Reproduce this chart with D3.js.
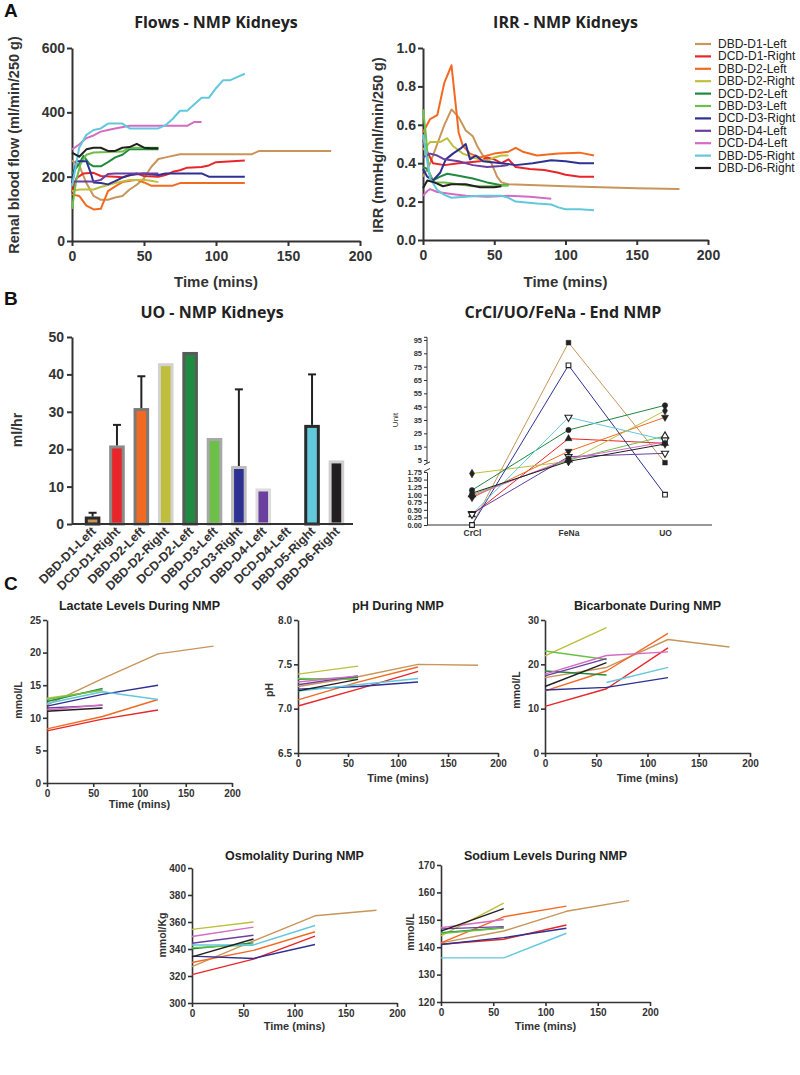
<!DOCTYPE html>
<html><head><meta charset="utf-8">
<script src="https://cdn.jsdelivr.net/npm/d3@7"></script>
<style>body{margin:0;background:#fff}</style>
</head><body>
<svg id="fig" width="800" height="1075"></svg>
<script>
// ---------- DATA ----------
const kidneys = ["DBD-D1-Left","DCD-D1-Right","DBD-D2-Left","DBD-D2-Right","DCD-D2-Left","DBD-D3-Left","DCD-D3-Right","DBD-D4-Left","DCD-D4-Left","DBD-D5-Right","DBD-D6-Right"];
const kidneyColors = ["#c8955a","#e8262a","#f26a22","#bebe3c","#1f8a40","#6cc04a","#2e3192","#6a3fa0","#d36cc2","#62c8dc","#231f20"];

// Flows (time min, ml/min/250 g)
const flowData = [
 [[0,250],[5,235],[10,180],[15,140],[20,128],[25,128],[30,135],[35,140],[40,160],[45,175],[50,195],[55,230],[60,255],[65,260],[75,270],[125,270],[130,280],[180,280]],
 [[0,150],[3,195],[8,210],[15,212],[20,202],[30,200],[35,198],[45,210],[50,202],[60,200],[65,205],[70,215],[75,220],[80,228],[90,230],[95,235],[100,245],[120,250]],
 [[0,145],[5,140],[10,110],[15,98],[20,100],[25,155],[30,170],[35,183],[45,190],[50,182],[55,172],[70,172],[75,180],[120,180]],
 [[0,155],[5,160],[15,160],[20,168],[30,180],[40,190],[50,190],[55,187],[60,183]],
 [[0,210],[5,240],[8,265],[12,240],[15,232],[20,232],[25,245],[30,260],[35,268],[40,285],[60,285]],
 [[0,100],[3,190],[6,240],[10,268],[15,275],[35,278],[40,290],[60,290]],
 [[0,180],[3,248],[10,248],[13,212],[15,182],[20,180],[25,176],[30,186],[35,197],[40,205],[50,210],[60,205],[65,210],[90,210],[95,200],[120,200]],
 [[0,185],[15,185],[20,190],[25,208],[30,210],[60,210]],
 [[0,285],[5,300],[10,320],[15,328],[20,340],[25,345],[30,350],[40,358],[80,358],[85,370],[90,370]],
 [[0,170],[5,290],[10,330],[15,345],[20,350],[25,365],[35,365],[40,350],[60,350],[65,360],[70,380],[75,405],[80,405],[85,425],[90,445],[95,445],[100,475],[105,500],[110,500],[115,510],[120,520]],
 [[0,275],[5,262],[10,285],[15,290],[20,290],[25,280],[30,280],[35,290],[40,292],[45,302],[50,290],[55,288],[60,288]]
];
// IRR (time min, mmHg/ml/min/250 g)
const irrData = [
 [[0,0.33],[5,0.40],[10,0.50],[15,0.60],[20,0.68],[25,0.64],[30,0.57],[35,0.54],[38,0.49],[42,0.44],[48,0.40],[52,0.33],[55,0.30],[60,0.29],[100,0.28],[150,0.27],[180,0.265]],
 [[0,0.52],[3,0.46],[7,0.40],[15,0.39],[25,0.40],[40,0.41],[45,0.43],[50,0.42],[55,0.40],[60,0.42],[65,0.38],[75,0.37],[85,0.365],[95,0.35],[100,0.34],[110,0.33],[120,0.33]],
 [[0,0.56],[5,0.63],[10,0.65],[15,0.82],[20,0.91],[25,0.56],[28,0.49],[33,0.45],[40,0.43],[50,0.45],[60,0.46],[65,0.48],[70,0.46],[80,0.44],[95,0.45],[110,0.455],[120,0.44]],
 [[0,0.47],[5,0.51],[12,0.51],[17,0.53],[21,0.49],[28,0.45],[35,0.43],[45,0.41],[50,0.43],[55,0.44],[60,0.44]],
 [[0,0.38],[3,0.37],[7,0.31],[12,0.33],[17,0.345],[25,0.335],[35,0.32],[45,0.30],[55,0.285],[60,0.285]],
 [[0,0.68],[2,0.55],[4,0.36],[7,0.30],[15,0.30],[25,0.29],[35,0.28],[50,0.28],[60,0.285]],
 [[0,0.37],[3,0.33],[7,0.31],[12,0.35],[16,0.42],[21,0.45],[27,0.48],[30,0.50],[33,0.42],[37,0.44],[42,0.41],[55,0.40],[65,0.39],[77,0.40],[90,0.415],[100,0.41],[110,0.40],[120,0.40]],
 [[0,0.43],[5,0.45],[10,0.44],[15,0.42],[25,0.41],[35,0.39],[45,0.38],[55,0.385],[60,0.39]],
 [[0,0.23],[3,0.255],[5,0.265],[10,0.25],[15,0.245],[20,0.24],[30,0.23],[45,0.225],[60,0.23],[75,0.225],[90,0.215]],
 [[0,0.55],[3,0.41],[5,0.32],[10,0.26],[15,0.235],[20,0.22],[30,0.225],[40,0.23],[55,0.23],[60,0.22],[65,0.20],[80,0.19],[90,0.185],[95,0.17],[100,0.16],[110,0.16],[120,0.155]],
 [[0,0.27],[3,0.31],[8,0.30],[14,0.28],[20,0.29],[30,0.29],[40,0.275],[50,0.275],[55,0.28]]
];
// Urine output (ml/hr) and error-bar tops
const uoValues = [2, 21, 31, 43, 46, 23, 15.5, 9.5, 0, 26.5, 17];
const uoErrTop = [3, 26.5, 39.5, null, null, null, 36, null, null, 40, null];
const uoBorder = ["#2a2a2a","#8a8a8a","#7a7a7a","#d2d2d2","#5a5a5a","#a8a8a8","#bdbdbd","#dcdcdc","#cccccc","#2a2a2a","#cfcfcf"];

// CrCl / FeNa / UO at end of NMP
const crclCategories = ["CrCl","FeNa","UO"];
const crclValues = [
 [0.0,93,3],[0.33,21,17.5],[0.9,11.5,37],[1.7,4,42],[1.15,27.5,46],[1.0,5,23],
 [0.0,76,1.0],[0.38,7.5,10],[0.95,6,18.5],[0.35,37,20],[1.05,4,17]
];
const crclSymbols = ["square","triangle","triangleDown","diamond","circle","triangleOpen","squareOpen","triangleDownOpen","circle","triangleDownOpen","diamond"];
const crclUpperTicks = [5,15,25,35,45,55,65,75,85,95];
const crclLowerTicks = [0,0.25,0.5,0.75,1.0,1.25,1.5,1.75];

// Panel C: time points and per-kidney values
const bloodTimes = [0, 60, 120, 180];
const lactateValues = [
 [12.0,16.0,19.8,21.0],[8.0,9.8,11.2,null],[8.3,10.2,12.8,null],[13.0,14.2,null,null],[12.5,14.5,null,null],[12.8,14.3,null,null],
 [11.8,13.6,15.0,null],[11.5,11.9,null,null],[11.2,12.0,null,null],[12.2,14.0,12.8,null],[11.0,11.5,null,null]];
const phValues = [
 [7.25,7.36,7.50,7.49],[7.03,7.22,7.42,null],[7.10,7.30,7.47,null],[7.39,7.48,null,null],[7.33,7.35,null,null],[7.34,7.33,null,null],
 [7.22,7.25,7.30,null],[7.27,7.37,null,null],[7.30,7.37,null,null],[7.20,7.27,7.34,null],[7.20,7.33,null,null]];
const bicarbValues = [
 [17.0,19.3,25.6,23.9],[10.5,14.5,23.7,null],[14.0,18.5,27.0,null],[21.9,28.3,null,null],[18.5,17.6,null,null],[23.0,21.1,null,null],
 [14.2,14.8,17.0,null],[17.4,21.3,null,null],[17.8,22.0,22.8,null],[null,15.9,19.3,null],[15.0,20.4,null,null]];
const osmValues = [
 [327,346,364.6,368.7],[321,332.5,349.5,null],[330,339,352.8,null],[354.5,360,null,null],[340.2,344.5,null,null],[341,343,null,null],
 [334.7,333,343.3,null],[344.3,350.2,null,null],[349.3,356.2,null,null],[343,343,357.4,null],[334.2,347.4,null,null]];
const sodiumValues = [
 [141.6,145.9,153.1,157],[141.1,142.9,148.1,null],[141.6,151.1,155,null],[144.1,156.1,null,null],[145.3,147.1,null,null],[145,147,null,null],
 [141,143.5,146.9,null],[146.7,147.5,null,null],[147.1,150.1,null,null],[136.1,136.1,145.1,null],[145.9,154.1,null,null]];

// ---------- DRAWING ----------
const svg = d3.select("#fig");
const AX = "#333";
const ARIAL = "'Liberation Sans', Arial, sans-serif";
const TITLEF = "'Open Sans', 'Liberation Sans', sans-serif";

function styleAxis(g, fs, sw){
  g.selectAll("path").attr("stroke", AX).attr("stroke-width", sw);
  g.selectAll("line").attr("stroke", AX).attr("stroke-width", sw);
  g.selectAll("text").attr("font-size", fs).attr("font-weight","bold").attr("fill", AX).attr("font-family", ARIAL);
}
function label(x, y, txt, opts={}){
  const t = svg.append("text").attr("x", x).attr("y", y).text(txt)
    .attr("font-family", opts.family || ARIAL).attr("font-size", opts.size || 12)
    .attr("font-weight", opts.weight || "bold").attr("fill", opts.fill || AX)
    .attr("text-anchor", opts.anchor || "middle");
  if (opts.rotate) t.attr("transform", `rotate(${opts.rotate},${x},${y})`);
  return t;
}

// generic time-series chart
function timeChart(cfg){
  const x = d3.scaleLinear().domain([0,200]).range(cfg.xr);
  const y = d3.scaleLinear().domain(cfg.yd).range(cfg.yr);
  const gx = svg.append("g").attr("transform",`translate(0,${cfg.yr[0]})`)
    .call(d3.axisBottom(x).tickValues([0,50,100,150,200]).tickSize(cfg.tick).tickSizeOuter(0).tickPadding(cfg.pad));
  styleAxis(gx, cfg.tfs, cfg.asw);
  const gy = svg.append("g").attr("transform",`translate(${cfg.xr[0]},0)`)
    .call(d3.axisLeft(y).tickValues(cfg.yticks).tickSize(cfg.tick).tickSizeOuter(0).tickPadding(2).tickFormat(cfg.fmt || d3.format("d")));
  styleAxis(gy, cfg.tfs, cfg.asw);
  const line = d3.line().defined(d => d[1] != null).x(d => x(d[0])).y(d => y(d[1]));
  cfg.data.forEach((s,i) => {
    svg.append("path").datum(s).attr("d", line).attr("fill","none")
      .attr("stroke", kidneyColors[i]).attr("stroke-width", cfg.lw).attr("stroke-linejoin","round");
  });
  label((cfg.xr[0]+cfg.xr[1])/2, cfg.titleY, cfg.title, {size: cfg.titleSize, family: cfg.titleFamily || ARIAL, fill:"#222"});
  label((cfg.xr[0]+cfg.xr[1])/2 + (cfg.xlabDx||0), cfg.xlabY, "Time (mins)", {size: cfg.xlabSize});
  label(cfg.ylabX, cfg.ylabY, cfg.ylab, {size: cfg.ylabSize, rotate:-90});
}

// Panel letters
label(4, 17, "A", {size:19, anchor:"start", fill:"#111"});
label(4, 305, "B", {size:19, anchor:"start", fill:"#111"});
label(4, 590, "C", {size:19, anchor:"start", fill:"#111"});

// A left: flows
timeChart({xr:[72,360], yr:[241,48], yd:[0,600], yticks:[0,200,400,600], data:flowData,
  tick:5, pad:5, tfs:14, asw:2, lw:2,
  title:"Flows - NMP Kidneys", titleY:28, titleSize:16, titleFamily:TITLEF,
  xlabY:287, xlabSize:15, ylab:"Renal blood flow (ml/min/250 g)", ylabX:19, ylabY:145, ylabSize:14.5});

// A right: IRR
timeChart({xr:[423,708], yr:[240,48], yd:[0,1], yticks:[0,0.2,0.4,0.6,0.8,1.0], fmt:d3.format(".1f"), data:irrData,
  tick:5, pad:5, tfs:14, asw:2, lw:2,
  title:"IRR - NMP Kidneys", titleY:28, titleSize:16, titleFamily:TITLEF,
  xlabY:287, xlabSize:15, ylab:"IRR (mmHg/ml/min/250 g)", ylabX:383, ylabY:145, ylabSize:14.5});

// legend
const legY = d3.scalePoint().domain(kidneys).range([44, 168]);
kidneys.forEach((k,i) => {
  svg.append("line").attr("x1",695).attr("x2",711).attr("y1",legY(k)).attr("y2",legY(k))
    .attr("stroke",kidneyColors[i]).attr("stroke-width",2.2);
  const t = svg.append("text").attr("x",718).attr("y",legY(k)+4).text(k)
    .attr("font-family",ARIAL).attr("font-size",12).attr("fill","#222");
  const w = t.node().getComputedTextLength();
  t.attr("textLength", Math.min(w, 79 * w / 77.3)).attr("lengthAdjust","spacingAndGlyphs");
});

// B left: UO bars
(function(){
  const x = d3.scaleBand().domain(kidneys).range([76,353]).padding(0.36);
  const y = d3.scaleLinear().domain([0,50]).range([524,337]);
  const bw = x.bandwidth();
  kidneys.forEach((k,i) => {
    if (uoValues[i] <= 0) return;
    svg.append("rect").attr("x", x(k)+1.5).attr("y", y(uoValues[i])+1.5)
      .attr("width", bw-3).attr("height", Math.max(0, y(0)-y(uoValues[i])-1.5))
      .attr("fill", kidneyColors[i]).attr("stroke", uoBorder[i]).attr("stroke-width",3);
    if (uoErrTop[i] != null){
      const cx = x(k)+bw/2;
      svg.append("line").attr("x1",cx).attr("x2",cx).attr("y1",y(uoValues[i])).attr("y2",y(uoErrTop[i])).attr("stroke","#222").attr("stroke-width",2);
      svg.append("line").attr("x1",cx-4).attr("x2",cx+4).attr("y1",y(uoErrTop[i])).attr("y2",y(uoErrTop[i])).attr("stroke","#222").attr("stroke-width",2);
    }
  });
  const gy = svg.append("g").attr("transform","translate(72,0)")
    .call(d3.axisLeft(y).tickValues([0,10,20,30,40,50]).tickSize(5).tickSizeOuter(0).tickPadding(3));
  styleAxis(gy, 14, 2);
  svg.append("line").attr("x1",72).attr("x2",353).attr("y1",y(0)).attr("y2",y(0)).attr("stroke",AX).attr("stroke-width",2);
  kidneys.forEach((k,i) => {
    const cx = x(k)+bw/2+4, cy = 532;
    svg.append("text").attr("x",cx).attr("y",cy).text(k).attr("text-anchor","end")
      .attr("transform",`rotate(-45,${cx},${cy})`).attr("font-family",ARIAL)
      .attr("font-size",12.5).attr("font-weight","bold").attr("fill",AX);
  });
  label(212, 318, "UO - NMP Kidneys", {size:16, family:TITLEF, fill:"#222"});
  label(22, 430, "ml/hr", {size:14, rotate:-90});
})();

// B right: CrCl/UO/FeNa
(function(){
  const x = d3.scalePoint().domain(crclCategories).range([472,665]);
  const yUp = d3.scaleLinear().domain([2,100]).range([464,333.3]);
  const yLo = d3.scaleLinear().domain([0,1.75]).range([525,472]);
  const yv = v => v <= 1.75 ? yLo(v) : yUp(Math.max(v,2));
  const gu = svg.append("g").attr("transform","translate(427,0)")
    .call(d3.axisLeft(yUp).tickValues(crclUpperTicks).tickSize(3).tickSizeOuter(0).tickPadding(2));
  styleAxis(gu, 7.5, 1);
  gu.select("path").attr("d", `M-3,${yUp(97)}H0V${yUp(2.5)}`);
  const gl = svg.append("g").attr("transform","translate(427,0)")
    .call(d3.axisLeft(yLo).tickValues(crclLowerTicks).tickSize(3).tickSizeOuter(0).tickPadding(2).tickFormat(d3.format(".2f")));
  styleAxis(gl, 7.5, 1);
  // axis break marks
  [yUp(2.5), yLo(1.75)-2].forEach(yy => {
    svg.append("line").attr("x1",424).attr("x2",430).attr("y1",yy+1.5).attr("y2",yy-1.5).attr("stroke",AX).attr("stroke-width",1);
  });
  const gx = svg.append("g").attr("transform","translate(0,525)")
    .call(d3.axisBottom(x).tickSize(0).tickPadding(5));
  styleAxis(gx, 8.5, 1.2);
  gx.select("path").attr("d","M427,0H712");
  const line = d3.line().x((d,j) => x(crclCategories[j])).y(d => yv(d));
  crclValues.forEach((vals,i) => {
    svg.append("path").datum(vals).attr("d", line).attr("fill","none")
      .attr("stroke", kidneyColors[i]).attr("stroke-width",1);
  });
  const symMap = {square:d3.symbolSquare, squareOpen:d3.symbolSquare, triangle:d3.symbolTriangle, triangleOpen:d3.symbolTriangle,
    triangleDown:d3.symbolTriangle, triangleDownOpen:d3.symbolTriangle, circle:d3.symbolCircle, diamond:d3.symbolDiamond};
  crclValues.forEach((vals,i) => {
    const s = crclSymbols[i];
    vals.forEach((v,j) => {
      const open = s.includes("Open");
      const rot = s.startsWith("triangleDown") ? 180 : 0;
      svg.append("path").attr("d", d3.symbol().type(symMap[s]).size(22)())
        .attr("transform", `translate(${x(crclCategories[j])},${yv(v)}) rotate(${rot})`)
        .attr("fill", open ? "#fff" : "#222").attr("stroke","#222").attr("stroke-width", open ? 1.1 : 0.5);
    });
  });
  label(563, 318, "CrCl/UO/FeNa - End NMP", {size:16, family:TITLEF, fill:"#222"});
  label(398, 420, "Unit", {size:8, weight:"normal", rotate:-90});
})();

// Panel C charts
function toSeries(vals){ return vals.map(r => r.map((v,j) => [bloodTimes[j], v])); }
const cBase = {tick:4, pad:3, tfs:10, asw:1.6, lw:1.4, titleSize:12.5, xlabSize:11, ylabSize:10.5};
timeChart(Object.assign({}, cBase, {xr:[47,232], yr:[783,620], yd:[0,25], yticks:[0,5,10,15,20,25], data:toSeries(lactateValues),
  title:"Lactate Levels During NMP", titleY:610, xlabY:808, ylab:"mmol/L", ylabX:22, ylabY:700}));
timeChart(Object.assign({}, cBase, {xr:[298,498], yr:[753,620], yd:[6.5,8.0], yticks:[6.5,7.0,7.5,8.0], fmt:d3.format(".1f"), data:toSeries(phValues),
  title:"pH During NMP", titleY:610, xlabY:782, ylab:"pH", ylabX:273, ylabY:690}));
timeChart(Object.assign({}, cBase, {xr:[545,750], yr:[753,620], yd:[0,30], yticks:[0,10,20,30], data:toSeries(bicarbValues),
  title:"Bicarbonate During NMP", titleY:610, xlabY:782, ylab:"mmol/L", ylabX:520, ylabY:690}));
timeChart(Object.assign({}, cBase, {xr:[192,397], yr:[1003,868], yd:[300,400], yticks:[300,320,340,360,380,400], data:toSeries(osmValues),
  title:"Osmolality During NMP", titleY:860, xlabY:1030, ylab:"mmol/Kg", ylabX:166, ylabY:935}));
timeChart(Object.assign({}, cBase, {xr:[441,650], yr:[1002,865], yd:[120,170], yticks:[120,130,140,150,160,170], data:toSeries(sodiumValues),
  title:"Sodium Levels During NMP", titleY:860, xlabY:1030, ylab:"mmol/L", ylabX:414, ylabY:932}));
</script>
</body></html>
